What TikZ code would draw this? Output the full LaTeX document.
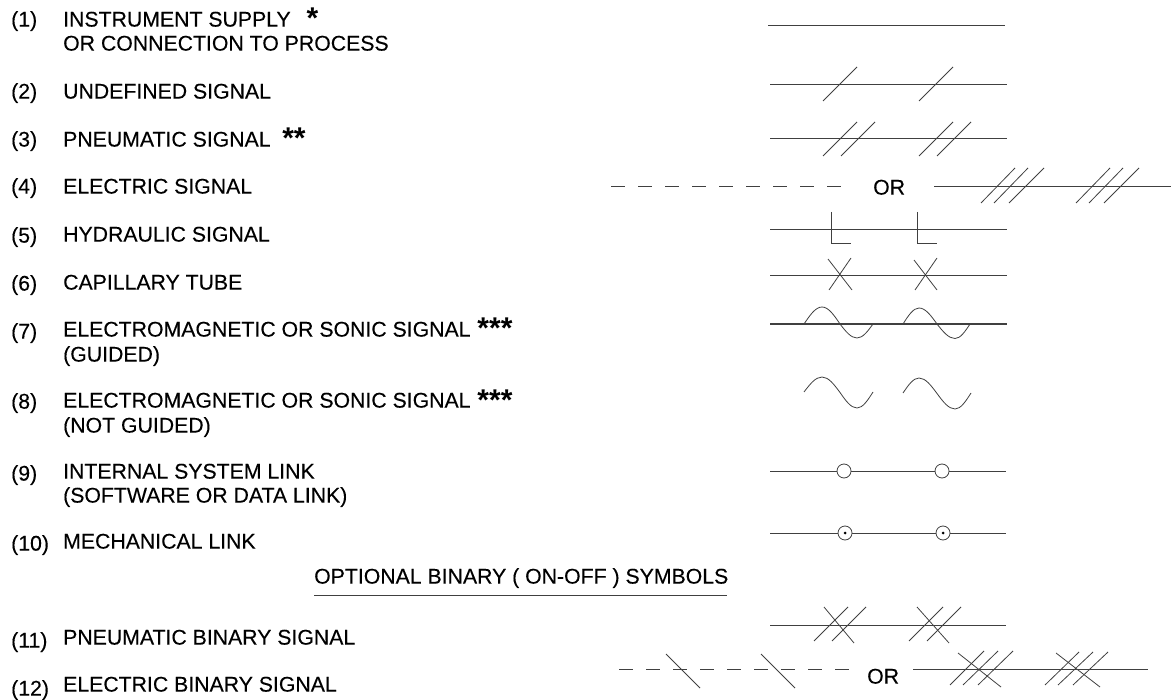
\documentclass[tikz,border=0pt]{standalone}
\usepackage{fontspec}
\setmainfont{Liberation Sans}
\newfontfamily\lblfont[FakeBold=0.25]{Liberation Sans}
\usetikzlibrary{positioning}

\tikzset{
  lbl/.style={rectangle,anchor=west,inner sep=0pt,text height=15.2pt,text depth=0pt,font=\lblfont\fontsize{21.25}{24}\selectfont},
  star/.style={rectangle,inner sep=0pt,font=\bfseries\fontsize{30}{30}\selectfont},
  sigline/.style={line width=1pt,black!75},
  sigmark/.style={line width=0.8pt,black!75},
  linkring/.style={circle,draw=black!75,fill=white,line width=0.8pt,minimum size=14pt,inner sep=0pt},
  linkdot/.style={circle,fill=black,minimum size=3pt,inner sep=0pt}
}

\begin{document}
\begin{tikzpicture}[x=1pt,y=-1pt]
\useasboundingbox (0,0) rectangle (1174,700);

\node[lbl] (na) at (11,19) {(1)};
\node[lbl] (nb) at (11,91) {(2)};
\node[lbl] (nc) at (11,139) {(3)};
\node[lbl] (nd) at (11,186) {(4)};
\node[lbl] (ne) at (11,235) {(5)};
\node[lbl] (nf) at (11,283) {(6)};
\node[lbl] (ng) at (11,331) {(7)};
\node[lbl] (nh) at (11,401) {(8)};
\node[lbl] (ni) at (11,473) {(9)};
\node[lbl] (nj) at (11,543) {(10)};
\node[lbl] (nk) at (11,640) {(11)};
\node[lbl] (nl) at (11,688) {(12)};

\node[lbl] (ta) at (63,19) {INSTRUMENT SUPPLY};
\node[lbl] (taa) at (63,43) {OR CONNECTION TO PROCESS};
\node[lbl] (tb) at (63,91) {UNDEFINED SIGNAL};
\node[lbl] (tc) at (63,139) {PNEUMATIC SIGNAL};
\node[lbl] (td) at (63,186) {ELECTRIC SIGNAL};
\node[lbl] (te) at (63,234) {HYDRAULIC SIGNAL};
\node[lbl] (tf) at (63,282) {CAPILLARY TUBE};
\node[lbl] (tg) at (63,329) {ELECTROMAGNETIC OR SONIC SIGNAL};
\node[lbl] (tgg) at (63,354) {(GUIDED)};
\node[lbl] (th) at (63,400) {ELECTROMAGNETIC OR SONIC SIGNAL};
\node[lbl] (thh) at (63,425) {(NOT GUIDED)};
\node[lbl] (ti) at (63,471) {INTERNAL SYSTEM LINK};
\node[lbl] (tii) at (63,495) {(SOFTWARE OR DATA LINK)};
\node[lbl] (tj) at (63,541) {MECHANICAL LINK};
\node[lbl] (tk) at (63,637) {PNEUMATIC BINARY SIGNAL};
\node[lbl] (tl) at (63,684) {ELECTRIC BINARY SIGNAL};

\node[star] (sa) at (312.5,18.5) {*};
\node[star] (sc) at (294,138.5) {**};
\node[star] (sg) at (495,328.5) {***};
\node[star] (sh) at (495,400.5) {***};

\node[lbl] (head) at (314,576) {OPTIONAL BINARY ( ON-OFF ) SYMBOLS};
\coordinate (heada) at (314,595);
\coordinate (headb) at (727,595);
\draw[sigline] (heada) -- (headb);

\node[lbl] (ord) at (873,187) {OR};
\node[lbl] (orl) at (867,676) {OR};

% plain lines
\draw[sigline] (768,26) -- (1005,26);
\draw[sigline] (770,85) -- (1007,85);
\draw[sigline] (770,139) -- (1007,139);
\draw[sigline,dash pattern=on 14pt off 13pt] (611,187) -- (841,187);
\draw[sigline] (934,187) -- (1171,187);
\draw[sigline] (770,230) -- (1007,230);
\draw[sigline] (770,276) -- (1007,276);
\draw[sigline,line width=1.5pt] (770,324) -- (1007,324);
\draw[sigline] (770,625) -- (1006,625);
\draw[sigline,dash pattern=on 14pt off 13pt] (619,669) -- (849,669);
\draw[sigline] (913,669) -- (1148,669);

% undefined
\draw[sigmark] (823,101) -- (857,67);
\draw[sigmark] (919,101) -- (953,67);

% pneumatic
\draw[sigmark] (823,156) -- (857,122);
\draw[sigmark] (841,156) -- (875,122);
\draw[sigmark] (919,156) -- (953,122);
\draw[sigmark] (937,156) -- (971,122);

% electric
\draw[sigmark] (981,203) -- (1015,168);
\draw[sigmark] (994,203) -- (1028,168);
\draw[sigmark] (1009,203) -- (1044,168);
\draw[sigmark] (1076,203) -- (1110,168);
\draw[sigmark] (1089,203) -- (1123,168);
\draw[sigmark] (1104,203) -- (1139,168);

% hydraulic
\draw[sigline] (831,212) -- (831,243.5) -- (851,243.5);
\draw[sigline] (917,212) -- (917,243.5) -- (937,243.5);

% capillary
\draw[sigmark] (828,259) -- (852,290);
\draw[sigmark] (851,258) -- (829,290);
\draw[sigmark] (914,260) -- (937,290);
\draw[sigmark] (937,258) -- (915,290);

% waves
\draw[sigmark] (804,324) sin (822,307) cos (840,324) sin (857,338) cos (873,324);
\draw[sigmark] (903,324) sin (919,308) cos (937,324) sin (955,338.5) cos (970,324);
\draw[sigmark] (804,392) sin (822,377) cos (840,392.5) sin (857,408) cos (873,392);
\draw[sigmark] (903,393) sin (919,378) cos (937,393.5) sin (955,409) cos (971,393);

% links
\coordinate (ila) at (770,471);
\coordinate (ilb) at (1006,471);
\node[linkring] (ica) at (844,471) {};
\node[linkring] (icb) at (942,471) {};
\draw[sigline] (ila) -- (ica) -- (icb) -- (ilb);

\coordinate (mla) at (770,533);
\coordinate (mlb) at (1006,533);
\node[linkring] (mca) at (845,533) {};
\node[linkring] (mcb) at (943,533) {};
\node[linkdot] (mda) at (845,533) {};
\node[linkdot] (mdb) at (943,533) {};
\draw[sigline] (mla) -- (mca) -- (mcb) -- (mlb);

% binary pneumatic
\draw[sigmark] (814,641) -- (848,607);
\draw[sigmark] (832,641) -- (866,607);
\draw[sigmark] (824,607) -- (854,643);
\draw[sigmark] (909,641) -- (943,607);
\draw[sigmark] (927,641) -- (961,607);
\draw[sigmark] (917,607) -- (949,643);

% binary electric
\draw[sigmark] (666,654) -- (700,688);
\draw[sigmark] (761,654) -- (795,688);
\draw[sigmark] (950,685) -- (984,651);
\draw[sigmark] (963,685) -- (998,651);
\draw[sigmark] (978,685) -- (1013,651);
\draw[sigmark] (958,653) -- (1001,687);
\draw[sigmark] (1045,685) -- (1079,652);
\draw[sigmark] (1058,685) -- (1093,652);
\draw[sigmark] (1073,685) -- (1108,652);
\draw[sigmark] (1056,653) -- (1100,687);
\end{tikzpicture}
\end{document}
